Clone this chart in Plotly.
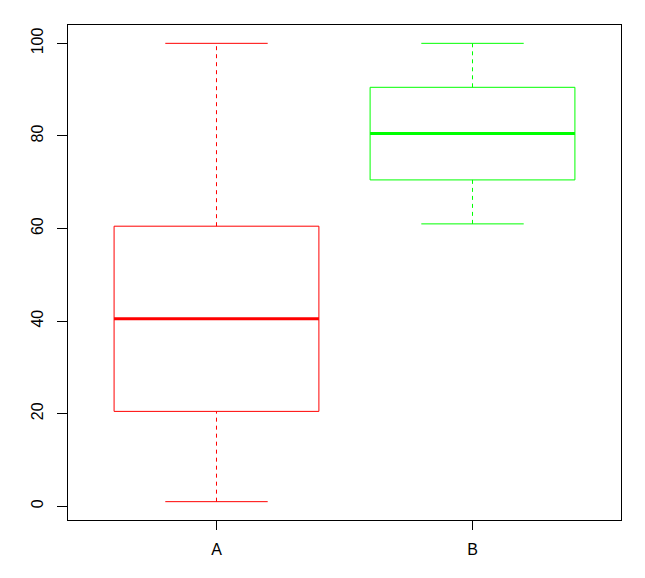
import plotly.graph_objects as go

# data (five-number summaries)
groups = ["A", "B"]
positions = [1, 2]
lower = [1, 61]
q1 = [20.5, 70.5]
median = [40.5, 80.5]
q3 = [60.5, 90.5]
upper = [100, 100]
colors = ["#FF0000", "#00FF00"]
y_ticks = [0, 20, 40, 60, 80, 100]

box_w = 0.8
cap_w = 0.4

fig = go.Figure()
for i, g in enumerate(groups):
    x0 = positions[i]
    c = colors[i]
    # box
    fig.add_trace(go.Scatter(
        x=[x0 - box_w / 2, x0 + box_w / 2, x0 + box_w / 2, x0 - box_w / 2, x0 - box_w / 2],
        y=[q1[i], q1[i], q3[i], q3[i], q1[i]],
        mode="lines", line=dict(color=c, width=1), hoverinfo="skip", showlegend=False))
    # median
    fig.add_trace(go.Scatter(
        x=[x0 - box_w / 2, x0 + box_w / 2], y=[median[i], median[i]],
        mode="lines", line=dict(color=c, width=3), showlegend=False))
    # whiskers (dashed)
    fig.add_trace(go.Scatter(
        x=[x0, x0, None, x0, x0], y=[lower[i], q1[i], None, q3[i], upper[i]],
        mode="lines", line=dict(color=c, width=1, dash="4px,4px"), hoverinfo="skip", showlegend=False))
    # staples
    fig.add_trace(go.Scatter(
        x=[x0 - cap_w / 2, x0 + cap_w / 2, None, x0 - cap_w / 2, x0 + cap_w / 2],
        y=[lower[i], lower[i], None, upper[i], upper[i]],
        mode="lines", line=dict(color=c, width=1), hoverinfo="skip", showlegend=False))

ymin = min(lower)
ymax = max(upper)
pad = (ymax - ymin) * 0.04
xpad = (len(groups)) * 0.04

fig.update_layout(
    width=645, height=578,
    margin=dict(l=60, r=32, t=17, b=66),
    plot_bgcolor="white", paper_bgcolor="white",
    font=dict(family="Liberation Sans, Arial, sans-serif", size=16, color="black"),
    xaxis=dict(
        range=[0.5 - xpad, len(groups) + 0.5 + xpad],
        tickmode="array", tickvals=positions, ticktext=groups,
        ticks="outside", ticklen=9, tickcolor="black", tickwidth=1,
        showline=True, linecolor="black", linewidth=1, mirror=True,
        showgrid=False, zeroline=False, tickfont=dict(size=16),
        ticklabelstandoff=6,
    ),
    yaxis=dict(
        range=[ymin - pad, ymax + pad],
        tickmode="array", tickvals=y_ticks,
        ticks="outside", ticklen=10, tickcolor="black", tickwidth=1,
        showline=True, linecolor="black", linewidth=1, mirror=True,
        showgrid=False, zeroline=False, tickangle=-90, tickfont=dict(size=16),
        ticklabelstandoff=8,
    ),
)

fig.write_html("out.html")
